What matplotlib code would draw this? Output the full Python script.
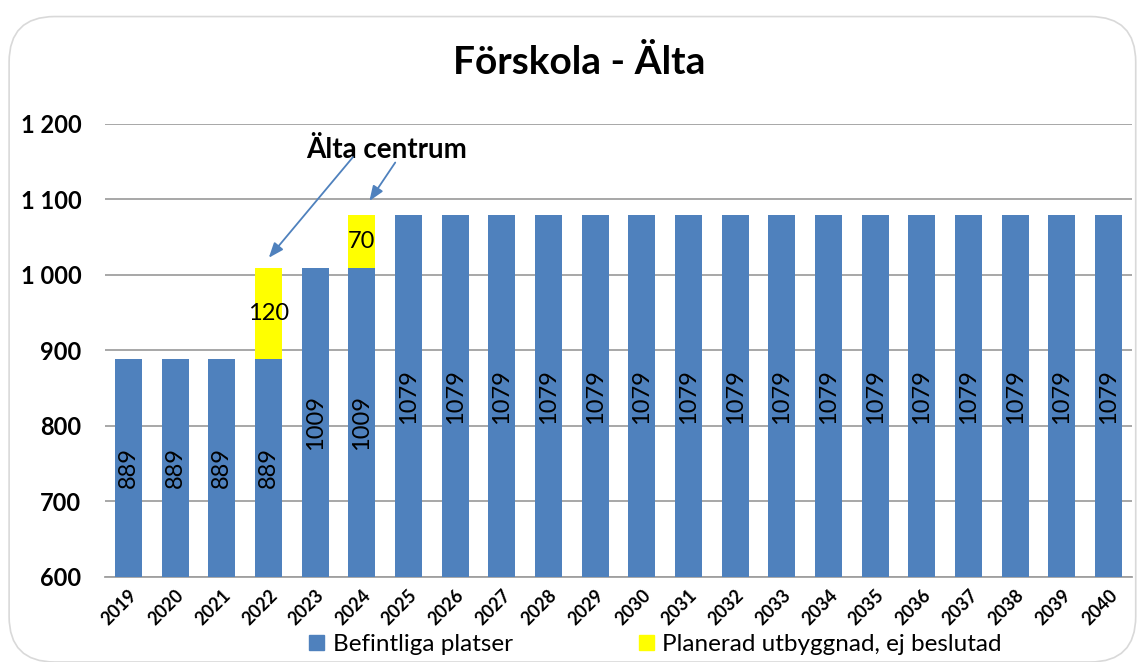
import matplotlib
matplotlib.use("Agg")
import matplotlib.pyplot as plt
from matplotlib.patches import FancyBboxPatch, Patch
import numpy as np

plt.rcParams['font.family'] = ['Lato', 'DejaVu Sans']

years = [str(y) for y in range(2019, 2041)]
befintliga = [889, 889, 889, 889, 1009, 1009] + [1079] * 16
planerad = [0, 0, 0, 120, 0, 70] + [0] * 16
y_ticks = [600, 700, 800, 900, 1000, 1100, 1200]

blue = '#4F81BD'
yellow = '#FFFF00'

fig = plt.figure(figsize=(11.38, 6.62), dpi=100)
border = FancyBboxPatch((0.008, 0.0), 0.99, 0.975, boxstyle="round,pad=0,rounding_size=0.04",
                        transform=fig.transFigure, facecolor='none', edgecolor='#D9D9D9',
                        linewidth=1.2, mutation_aspect=1138/662, zorder=-1)
fig.patches.append(border)

ax = fig.add_axes([0.0923, 0.1284, 0.9024, 0.6843])
ax.set_facecolor('none')
x = np.arange(len(years))
w = 0.58
ax.bar(x, befintliga, width=w, color=blue, zorder=3)
ax.bar(x, planerad, width=w, bottom=befintliga, color=yellow, zorder=3)

ymin, ymax = 600, 1200
ax.set_ylim(ymin, ymax)
ax.set_xlim(-0.5, len(years) - 0.5)

for i, (b, p) in enumerate(zip(befintliga, planerad)):
    ax.text(i, (ymin + b) / 2, str(b), rotation=90, ha='center', va='center',
            fontsize=17, color='black', zorder=4)
    if p > 0:
        ax.text(i, b + p / 2, str(p), ha='center', va='center', fontsize=17,
                color='black', zorder=4)

ax.set_yticks(y_ticks)
ax.set_yticklabels([f"{v:,}".replace(",", " ") for v in y_ticks], fontsize=17, fontweight='bold')
ax.set_xticks(x)
ax.set_xticklabels(years, rotation=45, fontsize=13, fontweight='bold', ha='right',
                   rotation_mode='anchor')
ax.tick_params(axis='both', length=0)
ax.tick_params(axis='y', pad=17)
ax.tick_params(axis='x', pad=7)
ax.grid(axis='y', color='#A0A0A0', linewidth=1.3, zorder=0)
for s in ['left', 'right', 'top']:
    ax.spines[s].set_visible(False)
ax.spines['bottom'].set_color('#A0A0A0')
ax.spines['bottom'].set_linewidth(1.3)

ax.text(5.54, 1165, 'Älta centrum', ha='center', va='center', fontsize=20, fontweight='bold', zorder=5)
ax.annotate('', xy=(2.97, 1020), xytext=(4.85, 1159),
            arrowprops=dict(arrowstyle='-|>,head_length=0.9,head_width=0.35', color=blue, lw=1.3),
            zorder=5)
ax.annotate('', xy=(5.13, 1095), xytext=(5.75, 1152),
            arrowprops=dict(arrowstyle='-|>,head_length=0.9,head_width=0.35', color=blue, lw=1.3),
            zorder=5)

fig.text(0.509, 0.905, 'Förskola - Älta', ha='center', va='center', fontsize=28, fontweight='bold')

handles = [Patch(color=blue, label='Befintliga platser'),
           Patch(color=yellow, label='Planerad utbyggnad, ej beslutad')]
fig.legend(handles=handles, loc='center', bbox_to_anchor=(0.576, 0.026), ncol=2, frameon=False,
           fontsize=17.5, handlelength=0.6, handleheight=0.6, handletextpad=0.35, columnspacing=5.2,
           borderpad=0, borderaxespad=0)

fig.savefig('out.png', dpi=100)
